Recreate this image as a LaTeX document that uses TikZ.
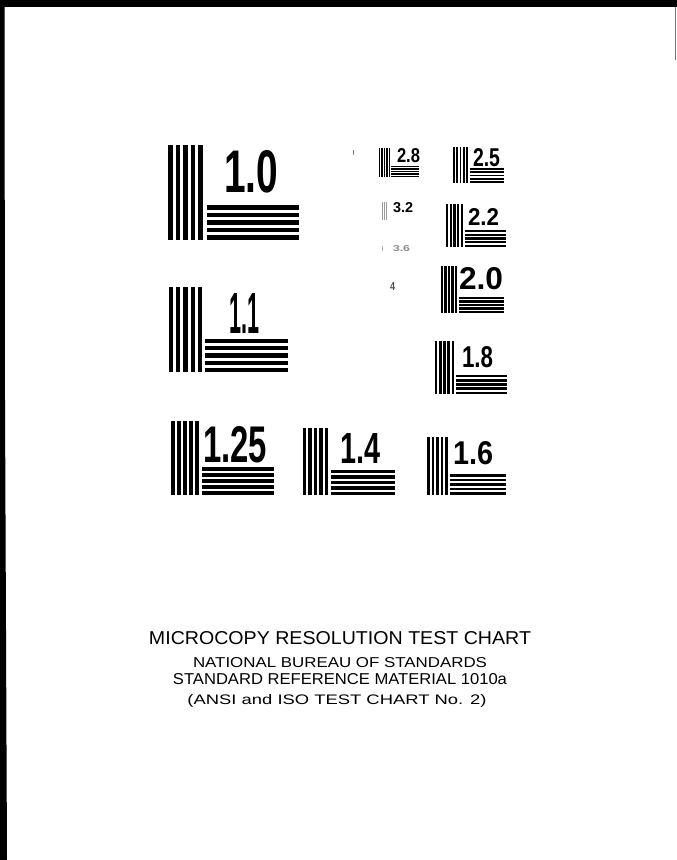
\documentclass[tikz,border=0pt]{standalone}
\usepackage{fontspec}
\setmainfont{Liberation Sans}
\usepackage{graphicx}
\begin{document}
\begin{tikzpicture}[x=1pt,y=-1pt,
lbl/.style={inner sep=0pt,outer sep=0pt,anchor=south west,font=\bfseries},
caption/.style={inner sep=0pt,outer sep=0pt,anchor=base}]
\fill[white] (0,0) rectangle (677,860);
\useasboundingbox (0,0) rectangle (677,860);
% frame remains at the edges of the frame
\fill (0,0) rectangle (677,7);
\fill (0,0) -- (4.5,0) -- (5,400) -- (7,860) -- (0,860) -- cycle;
\fill[black!55] (674.5,7) rectangle (676,60);
% bar groups: left x / bottom y / block width / bar length
\foreach \a/\b/\w/\h in {168/240/35/95, 169/372/33/85, 171/495/28/74,
  303/495/25/67, 427/495/21/58, 435/394/19/53, 441/313/16/47,
  446/247/17/43, 453/183/15/36, 379/177/11/29}{
  \pgfmathsetmacro\p{\w/4.6}
  \foreach \i in {0,...,4}{
    \fill (\a+\i*\p,\b-\h) rectangle ++(0.6*\p,\h);
    \fill (\a+1.1*\w,\b-\w+\i*\p) rectangle ++(0.97*\h,0.6*\p);
  }
}
% finest patterns, mostly lost
\foreach \i in {0,1,2}
  \fill[black!40] (382+\i*2,202) rectangle ++(0.8,18);
\fill[black!30] (382,246) rectangle ++(1,5);
\fill[black!50] (352.5,150) rectangle ++(1.2,5);
% labels: left x / bottom y / width / height / text / name
\foreach \x/\y/\w/\h/\t/\n in {224/193/54/42/1.0/10, 229/333/30/40/1.1/11,
  203/463/64/36/1.25/125, 340/463/40/30/1.4/14, 453/465/40/23/1.6/16,
  462/368/31/21/1.8/18, 459/290/44/22/2.0/20, 468/225/31/17/2.2/22,
  473/167/27/18/2.5/25, 397/163/23/14/2.8/28, 393/213/20/10/3.2/32}
  \node[lbl] (label\n) at (\x,\y) {\resizebox{\w pt}{\h pt}{\t}};
\node[lbl,text=black!45] (label36) at (393,252) {\resizebox{17pt}{6pt}{3.6}};
\node[lbl,text=black!70] (label4) at (390,290) {\resizebox{5pt}{8pt}{4}};
% caption
\node[caption] (title) at (340,644) {\resizebox{382pt}{13pt}{MICROCOPY RESOLUTION TEST CHART}};
\node[caption] (bureau) at (340,667) {\resizebox{294pt}{10pt}{NATIONAL BUREAU OF STANDARDS}};
\node[caption] (srm) at (340,684) {\resizebox{334pt}{11pt}{STANDARD REFERENCE MATERIAL 1010a}};
\node[caption] (ansi) at (337,704) {\resizebox{299pt}{10pt}{(ANSI and ISO TEST CHART No. 2)}};
\end{tikzpicture}
\end{document}
